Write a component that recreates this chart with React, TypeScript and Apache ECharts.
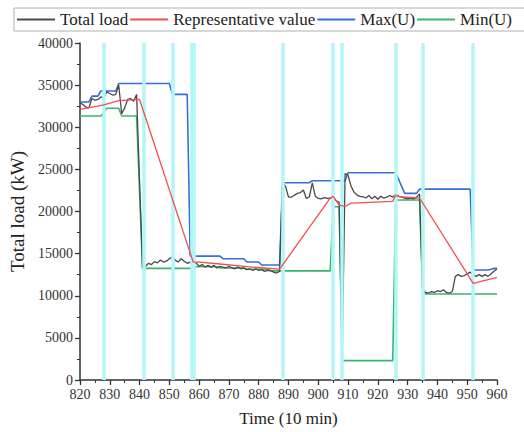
import React, { useEffect, useRef } from "react";
import * as echarts from "echarts";

// Time axis (10-minute steps)
const timeStart = 820;
const timeEnd = 960;
const timeTicks = [820, 830, 840, 850, 860, 870, 880, 890, 900, 910, 920, 930, 940, 950, 960];
const loadTicks = [0, 5000, 10000, 15000, 20000, 25000, 30000, 35000, 40000];

// Total load, one value per time step from 820 to 960 (kW)
const totalLoad = [
  32900, 32700, 32400, 32300, 33400, 33200, 33300, 33600, 33500, 34200,
  34000, 33800, 33900, 35000, 31600, 32300, 33300, 33400, 33100, 33900,
  23600, 13300, 13500, 13850, 13700, 14050, 13900, 14250, 14000, 14100,
  14400, 14600, 14200, 14000, 14400, 14100, 13850, 14000, 13700, 13900,
  13500, 13700, 13400, 13600, 13400, 13600, 13300, 13500, 13400, 13300,
  13500, 13300, 13200, 13400, 13200, 13300, 13100, 13200, 13000, 13200,
  13000, 13100, 12900, 13000, 13000, 12800, 12700, 12900, 23400, 23000,
  21700, 21700, 21950, 22150, 22250, 22550, 21550, 21750, 23400, 21800,
  21550, 21500, 21650, 21550, 21600, 21500, 21300, 21100, 2300, 24500,
  24300, 23000, 22300, 21950, 21800, 21750, 21600, 21900, 21500, 21800,
  21450, 21800, 21600, 21700, 21900, 21700, 22100, 21800, 21700, 21600,
  21500, 21600, 21500, 21700, 22100, 10600, 10400, 10300, 10500, 10400,
  10600, 10500, 10700, 10400, 10300, 10500, 12300, 12500, 12300, 12400,
  12600, 12800, 12500, 12300, 12500, 12300, 12500, 12300, 12600, 12900,
  13200,
];

// Representative value breakpoints [time, kW]
const representative: [number, number][] = [
  [820, 32130], [828, 32650], [833, 33150], [840, 33300], [858, 14000],
  [860, 14000], [867, 13770], [876, 13450], [887, 13150], [904, 21600],
  [905, 21800], [906, 21300], [907, 20750], [909, 20600], [911, 21000],
  [925, 21200], [926, 21950], [927, 21750], [934, 21600], [952, 11480],
  [960, 12190],
];

// Upper bound Max(U) [time, kW]
const maxU: [number, number][] = [
  [820, 33000], [823, 33000], [824, 33700], [826, 33700], [827, 34300],
  [832, 34300], [833, 35200], [850, 35200], [851, 33900], [856, 33900],
  [857, 14700], [867, 14700], [868, 14400], [875, 14400], [876, 14000],
  [880, 14000], [881, 13650], [887, 13650], [888, 23420], [897, 23420],
  [898, 23650], [909, 23650], [910, 24600], [926, 24600], [929, 22150],
  [933, 22150], [934, 22650], [951, 22650], [952, 13060], [957, 13060],
  [958, 13150], [959, 13250], [960, 13250],
];

// Lower bound Min(U) [time, kW]
const minU: [number, number][] = [
  [820, 31330], [827, 31330], [828, 31730], [829, 32250], [833, 32250],
  [834, 31330], [839, 31330], [841, 13250], [857, 13250], [858, 13450],
  [866, 13450], [867, 13300], [875, 13300], [876, 13140], [883, 13140],
  [884, 12950], [904, 12950], [905, 20570], [907, 20570], [908, 2300],
  [925, 2300], [926, 21360], [934, 21360], [935, 11000], [936, 10200],
  [960, 10200],
];

// Segment boundaries (time steps)
const boundaries = [828, 841.5, 851, 888, 905, 908, 926, 935, 952];
const wideBoundaries = [857.8];

const serif = "Liberation Serif";

export default function App() {
  const ref = useRef<HTMLDivElement>(null);

  useEffect(() => {
    if (!ref.current) return;
    const chart = echarts.init(ref.current, undefined, { renderer: "svg" });
    const totalPairs = totalLoad.map((v, i) => [timeStart + i, v]);
    const cyan = "#b2f6f8";

    chart.setOption({
      animation: false,
      backgroundColor: "#ffffff",
      textStyle: { fontFamily: serif },
      legend: {
        left: 14,
        top: 8,
        width: 620,
        padding: [3, 30, 3, 3],
        itemGap: 2,
        itemWidth: 38,
        itemHeight: 2,
        icon: "rect",
        borderColor: "#b0b0b0",
        borderWidth: 1,
        textStyle: { fontFamily: serif, fontSize: 17, color: "#222", lineHeight: 17 },
        data: ["Total load", "Representative value", "Max(U)", "Min(U)"],
      },
      grid: { left: 80, right: 27, top: 43, bottom: 52 },
      xAxis: {
        type: "value",
        min: timeStart,
        max: timeEnd,
        interval: 10,
        name: "Time (10 min)",
        nameLocation: "middle",
        nameGap: 30,
        nameTextStyle: { fontFamily: serif, fontSize: 17, color: "#222" },
        axisLine: { show: true, lineStyle: { color: "#333", width: 1.5 } },
        axisTick: { show: true, length: 5, lineStyle: { color: "#333", width: 1.3 } },
        minorTick: { show: true, splitNumber: 2, length: 3, lineStyle: { color: "#333", width: 1 } },
        axisLabel: {
          fontFamily: serif,
          fontSize: 14,
          color: "#333",
          margin: 7,
          formatter: (v: number) => (timeTicks.includes(v) ? String(v) : ""),
        },
        splitLine: { show: false },
      },
      yAxis: {
        type: "value",
        min: 0,
        max: 40000,
        interval: 5000,
        name: "Total load (kW)",
        nameLocation: "middle",
        nameGap: 45,
        nameTextStyle: { fontFamily: serif, fontSize: 19, color: "#222" },
        axisLine: { show: true, lineStyle: { color: "#333", width: 1.5 } },
        axisTick: { show: true, length: 5, lineStyle: { color: "#333", width: 1.3 } },
        minorTick: { show: true, splitNumber: 2, length: 3, lineStyle: { color: "#333", width: 1 } },
        axisLabel: {
          fontFamily: serif,
          fontSize: 14,
          color: "#333",
          margin: 7,
          formatter: (v: number) => (loadTicks.includes(v) ? String(v) : ""),
        },
        splitLine: { show: false },
      },
      series: [
        {
          name: "boundaries",
          type: "line",
          data: [],
          silent: true,
          markLine: {
            silent: true,
            symbol: "none",
            label: { show: false },
            lineStyle: { color: cyan, width: 3.5, type: "solid" },
            data: [
              ...boundaries.map((b) => ({ xAxis: b })),
              ...wideBoundaries.map((b) => ({ xAxis: b, lineStyle: { color: cyan, width: 5.5, type: "solid" } })),
            ],
          },
          z: 1,
        },
        {
          name: "Min(U)",
          type: "line",
          data: minU,
          symbol: "none",
          lineStyle: { color: "#3cb46e", width: 1.6 },
          itemStyle: { color: "#3cb46e" },
          z: 2,
        },
        {
          name: "Max(U)",
          type: "line",
          data: maxU,
          symbol: "none",
          lineStyle: { color: "#3570d8", width: 1.6 },
          itemStyle: { color: "#3570d8" },
          z: 3,
        },
        {
          name: "Total load",
          type: "line",
          data: totalPairs,
          symbol: "none",
          lineStyle: { color: "#4a4a4a", width: 1.3 },
          itemStyle: { color: "#4a4a4a" },
          z: 4,
        },
        {
          name: "Representative value",
          type: "line",
          data: representative,
          symbol: "none",
          lineStyle: { color: "#f24f4f", width: 1.3 },
          itemStyle: { color: "#f24f4f" },
          z: 5,
        },
      ],
    });

    return () => chart.dispose();
  }, []);

  return <div ref={ref} style={{ width: 524, height: 432, position: "absolute", left: 0, top: 0 }} />;
}
